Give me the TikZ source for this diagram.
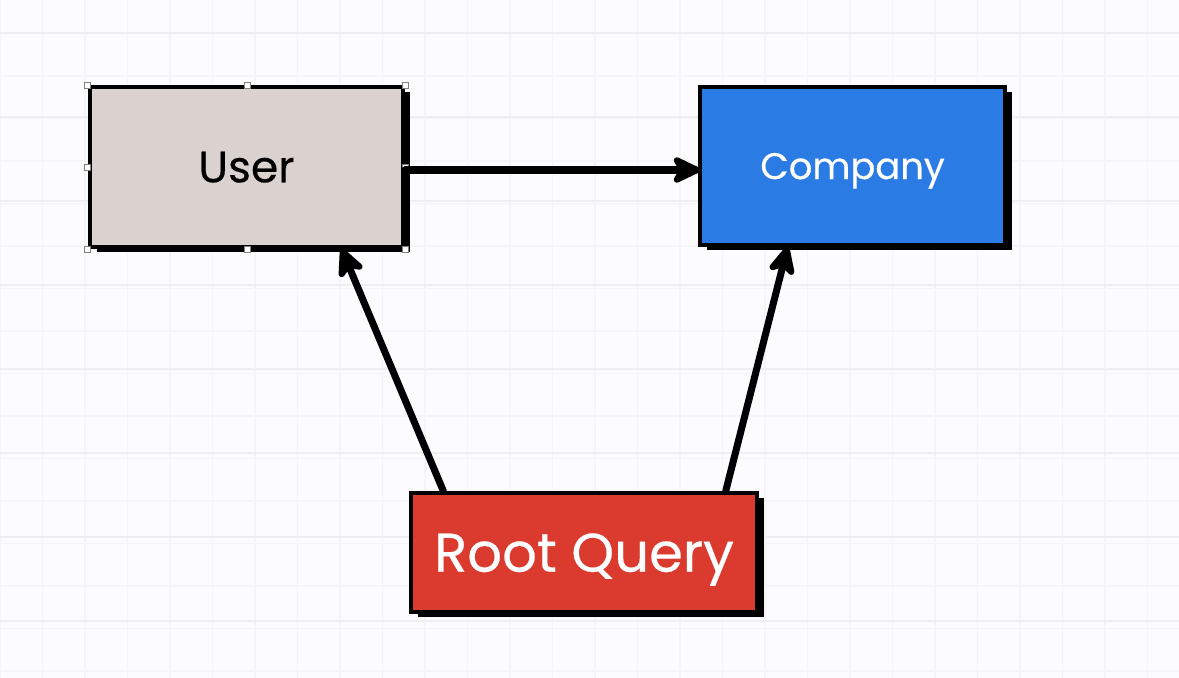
\documentclass[tikz,border=0pt]{standalone}
\usepackage{fontspec}
\setmainfont{Poppins}
\newfontfamily\boxfont{Poppins}[FakeBold=0.4]
\usetikzlibrary{calc,shadows,arrows.meta}
\definecolor{bgpaper}{HTML}{FCFCFE}
\definecolor{gridminor}{HTML}{F5F5F8}
\definecolor{gridmajor}{HTML}{EFEFF3}
\definecolor{userfill}{HTML}{D9D2CF}
\definecolor{companyfill}{HTML}{2B7BE5}
\definecolor{rootfill}{HTML}{DB3B2E}
\tikzset{
  entity/.style={draw=black, line width=2.3pt, inner sep=0pt, text depth=0pt,
    drop shadow={shadow xshift=0.14cm, shadow yshift=-0.1cm, fill=black, opacity=1}},
  link/.style={line width=4pt, line cap=round,
    -{Stealth[length=0.7cm, width=0.66cm, inset=0.2cm, round]}},
  handle/.style={draw=gray, fill=white, line width=0.4pt}
}
\begin{document}
\begin{tikzpicture}[x=0.02cm, y=-0.02cm]
			%%%%% PAPER %%%%%
			\useasboundingbox (0, 0) rectangle (1179, 678);
			\fill[bgpaper] (0, 0) rectangle (1179, 678);
			\foreach \gx in {0, 42.5, ..., 1179} {
				\draw[gridminor, line width=0.8pt] (\gx, 0) -- (\gx, 678);
			}
			\foreach \gy in {-9, 33.5, ..., 678} {
				\draw[gridminor, line width=0.8pt] (0, \gy) -- (1179, \gy);
			}
			\foreach \gy in {33, 117, ..., 678} {
				\draw[gridmajor, line width=1pt] (0, \gy) -- (1179, \gy);
			}
			
			%%%%% BOXES %%%%%
			\node[entity, fill=userfill, minimum width=6.26cm, minimum height=3.2cm,
				font=\boxfont\fontsize{25}{28}\selectfont] (user) at (246.5, 167) {User};
			\node[entity, fill=companyfill, text=white, minimum width=6.1cm, minimum height=3.16cm,
				font=\boxfont\fontsize{21}{24}\selectfont] (company) at (852.5, 166) {Company};
			\node[entity, fill=rootfill, text=white, minimum width=6.92cm, minimum height=2.38cm,
				font=\boxfont\fontsize{31}{34}\selectfont] (root) at (584, 552.5) {Root Query};
			
			%%%%% SELECTION HANDLES %%%%%
			\foreach \hx in {87, 247, 405} {
				\foreach \hy in {85, 249} {
					\draw[handle] (\hx-3, \hy-3) rectangle (\hx+3, \hy+3);
				}
			}
			\draw[handle] (84, 164) rectangle (90, 170);
			\draw[handle] (402, 164) rectangle (408, 170);
			
			%%%%% LINKS %%%%%
			\draw[link] ($(user.east)+(0, 3)$) -- ($(company.west)+(2, 4)$);
			\draw[link] ($(root.north west)!0.098!(root.north east)$) -- ($(user.south west)!0.8!(user.south east)$);
			\draw[link] ($(root.north west)!0.905!(root.north east)$) -- ($(company.south west)!0.29!(company.south east)$);
			
			%%%%% END %%%%%
		\end{tikzpicture}
\end{document}
